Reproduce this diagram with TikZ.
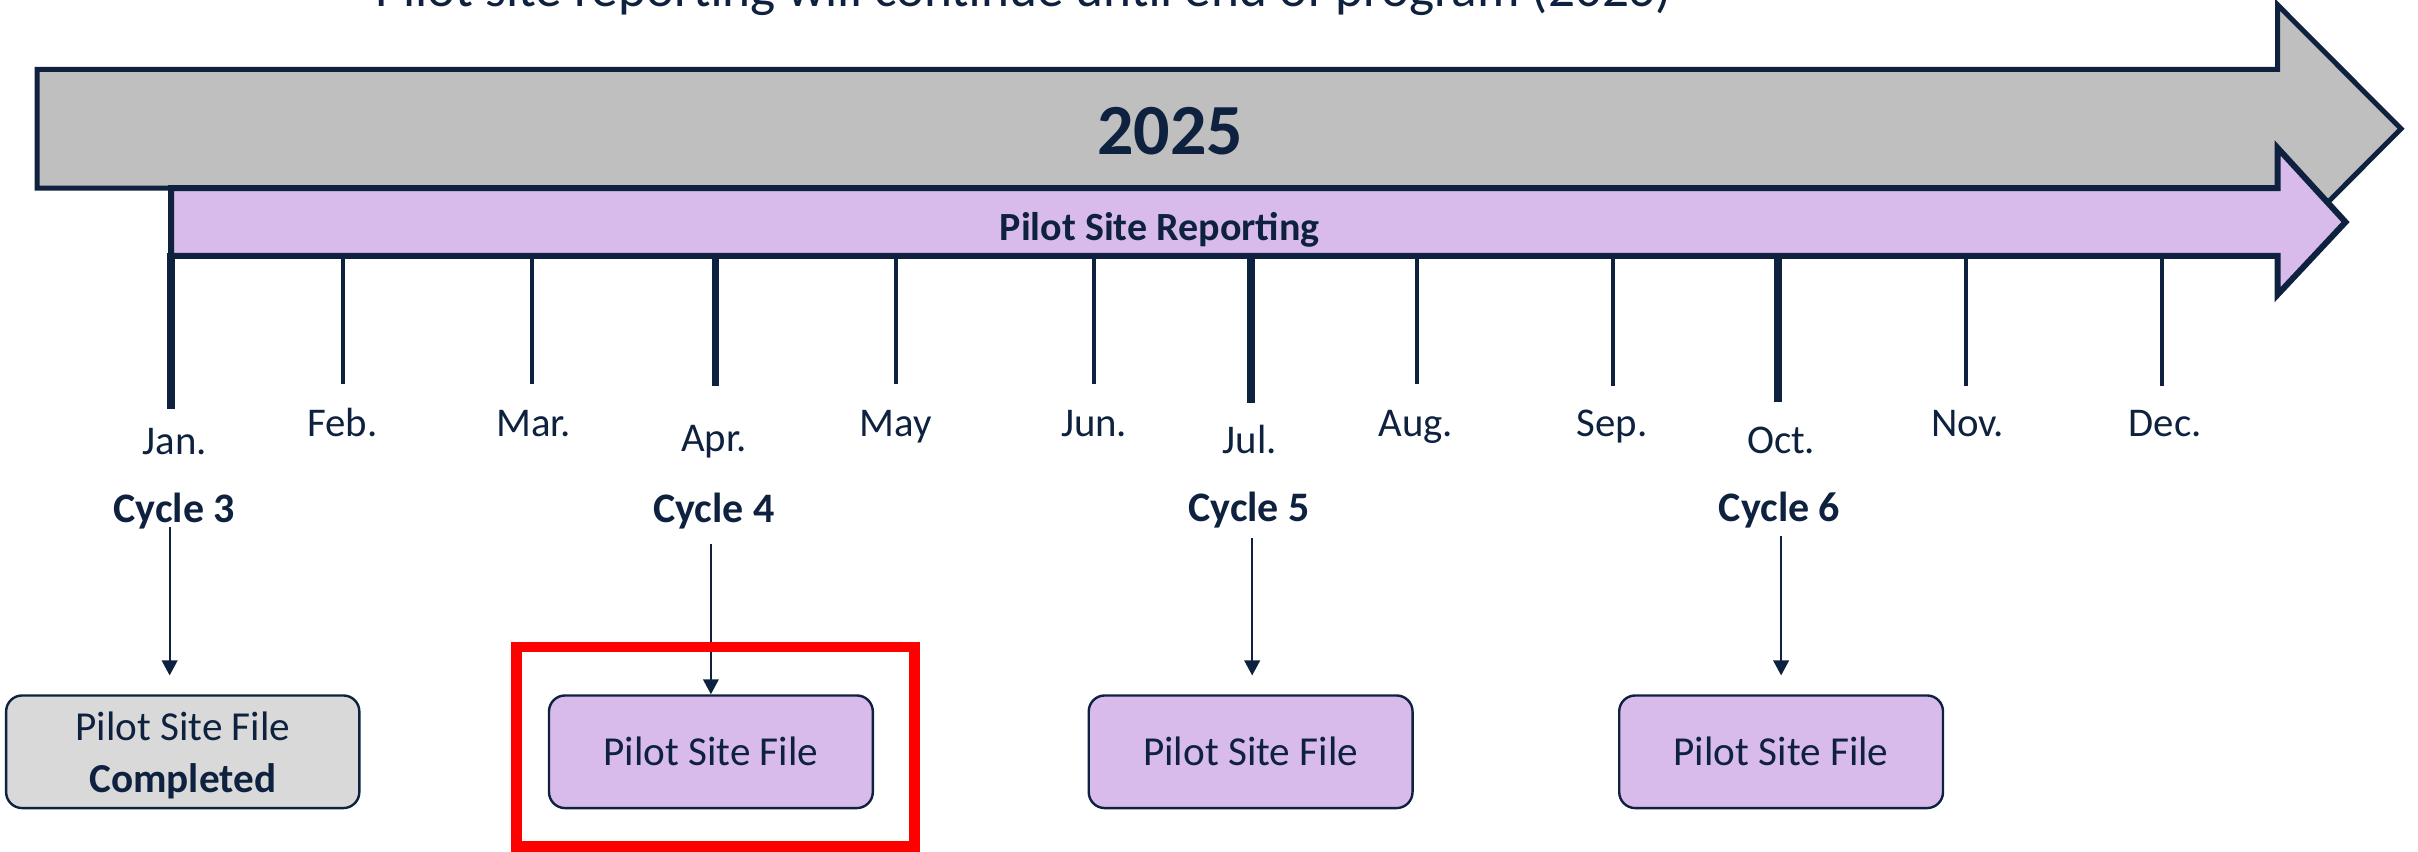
\documentclass[tikz,border=0pt]{standalone}
\usepackage{fontspec}
\setmainfont{Carlito}
\usetikzlibrary{arrows.meta}
\definecolor{navy}{RGB}{14,34,64}
\definecolor{grayfill}{RGB}{191,191,191}
\definecolor{lilac}{RGB}{216,187,234}
\definecolor{boxgray}{RGB}{217,217,217}
\begin{document}
\begin{tikzpicture}[x=0.771pt,y=-0.771pt,
  lbl/.style={anchor=base,inner sep=0pt,text=navy,font=\fontsize{20.4}{24}\selectfont},
  cyc/.style={anchor=base,inner sep=0pt,text=navy,font=\fontsize{21}{25}\selectfont\bfseries},
  thintick/.style={draw=navy,line width=1.9pt},
  thicktick/.style={draw=navy,line width=3.9pt},
  filebox/.style={draw=navy,line width=1.2pt,rounded corners=8pt,fill=lilac,
    minimum width=161.9pt,minimum height=56.3pt,inner sep=0pt,text=navy,
    font=\fontsize{20.6}{26}\selectfont,align=center},
  conn/.style={draw=navy,line width=1pt,-{Triangle[length=7.5pt,width=7.8pt]}},
  bigarrow/.style={draw=navy,line join=miter}
]
\useasboundingbox (0,0) rectangle (1568,552);

% title (cut off at top, as in the reference)
\node[anchor=base,inner sep=0pt,text=navy,font=\fontsize{26.6}{30}\selectfont] (title) at (664,4)
  {Pilot site reporting will continue until end of program (2026)};

% gray year arrow
\draw[bigarrow,fill=grayfill,line width=2.5pt]
  (24,45) -- (1477,45) -- (1477,3.2) -- (1557,83.5) -- (1477,163.8) -- (1477,122) -- (24,122) -- cycle;
\node[anchor=base,inner sep=0pt,text=navy,font=\fontsize{36}{40}\selectfont\bfseries] (year) at (759,100) {2025};

% purple reporting arrow
\draw[bigarrow,fill=lilac,line width=3pt]
  (111,122) -- (1477,122) -- (1477,96) -- (1521,144) -- (1477,191) -- (1477,166) -- (111,166) -- cycle;
\node[anchor=base,inner sep=0pt,text=navy,font=\fontsize{20}{24}\selectfont\bfseries] (psr) at (752,156) {Pilot Site Reporting};

% ticks
\draw[thicktick] (111,164) -- (111,265);
\draw[thintick] (222.5,166) -- (222.5,249);
\draw[thintick] (345,166) -- (345,249);
\draw[thicktick] (464,166) -- (464,250);
\draw[thintick] (581,166) -- (581,249);
\draw[thintick] (709.6,166) -- (709.6,249);
\draw[thicktick] (811,166) -- (811,261.5);
\draw[thintick] (919,166) -- (919,249);
\draw[thintick] (1046,166) -- (1046,250);
\draw[thicktick] (1153,166) -- (1153,261);
\draw[thintick] (1275,166) -- (1275,250);
\draw[thintick] (1402,166) -- (1402,250);

% month labels
\node[lbl] (m1) at (113.4,295) {Jan.};
\node[lbl] (m2) at (222,283) {Feb.};
\node[lbl] (m3) at (346,283) {Mar.};
\node[lbl] (m4) at (463,293) {Apr.};
\node[lbl] (m5) at (581,283) {May};
\node[lbl] (m6) at (709.5,283) {Jun.};
\node[lbl] (m7) at (810.5,294) {Jul.};
\node[lbl] (m8) at (918,283) {Aug.};
\node[lbl] (m9) at (1045.5,283) {Sep.};
\node[lbl] (m10) at (1155,294) {Oct.};
\node[lbl] (m11) at (1276,283) {Nov.};
\node[lbl] (m12) at (1404,283) {Dec.};

% cycle labels
\node[cyc] (c3) at (113,339) {Cycle 3};
\node[cyc] (c4) at (463,339) {Cycle 4};
\node[cyc] (c5) at (810,338) {Cycle 5};
\node[cyc] (c6) at (1154,338) {Cycle 6};

% file boxes
\node[filebox,fill=boxgray,minimum width=176.6pt] (b3) at (118.5,487.5) {};
\node[anchor=base,inner sep=0pt,text=navy,font=\fontsize{20.6}{26}\selectfont] (b3a) at (118.5,480) {Pilot Site File};
\node[anchor=base,inner sep=0pt,text=navy,font=\fontsize{20.6}{26}\selectfont\bfseries] (b3b) at (118.5,514) {Completed};
\node[filebox] (b4) at (461,487.5) {Pilot Site File};
\node[filebox] (b5) at (811,487.5) {Pilot Site File};
\node[filebox] (b6) at (1155,487.5) {Pilot Site File};

% connectors
\coordinate (s3) at (110,342);
\coordinate (e3) at (110,438);
\coordinate (s4) at (461,353);
\coordinate (s5) at (812,349);
\coordinate (e5) at (812,438);
\coordinate (s6) at (1155,347.5);
\coordinate (e6) at (1155,438);
\draw[conn] (s3) -- (e3);
\draw[conn] (s4) -- (b4.north);
\draw[conn] (s5) -- (e5);
\draw[conn] (s6) -- (e6);

% red highlight
\draw[draw={rgb,255:red,255;green,0;blue,0},line width=5.4pt] (335,419.5) rectangle (593,549);
\end{tikzpicture}
\end{document}
